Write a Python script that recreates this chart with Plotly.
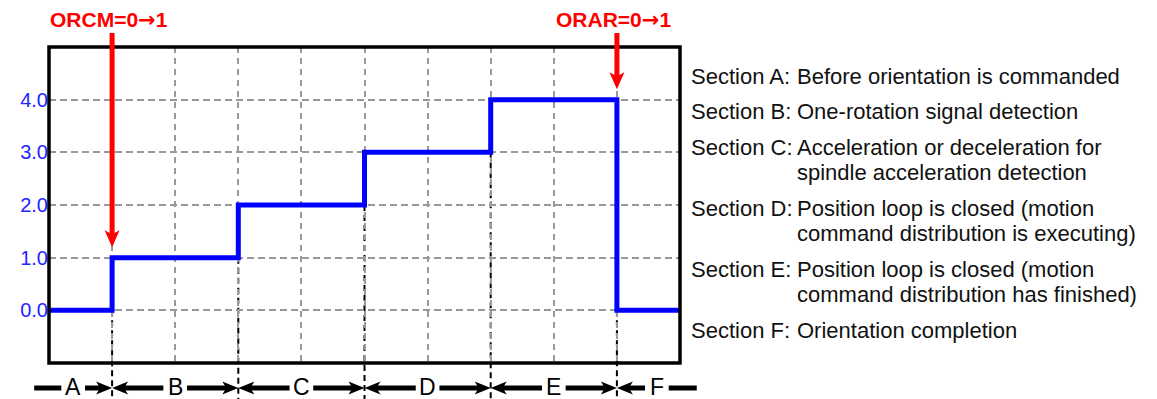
import plotly.graph_objects as go

# step signal, x in grid divisions
step_x = [0, 1, 3, 5, 7, 9, 10]
step_y = [0, 1, 2, 3, 4, 0, 0]

y_ticks = [0, 1, 2, 3, 4]
y_tick_text = ["0.0", "1.0", "2.0", "3.0", "4.0"]

sections = ["A", "B", "C", "D", "E", "F"]
section_desc = [
    ["Before orientation is commanded"],
    ["One-rotation signal detection"],
    ["Acceleration or deceleration for", "spindle acceleration detection"],
    ["Position loop is closed (motion", "command distribution is executing)"],
    ["Position loop is closed (motion", "command distribution has finished)"],
    ["Orientation completion"],
]

signals = ["ORCM=0", "ORAR=0"]
signal_to = "1"
signal_x = [1, 9]

# page geometry (px); the page body adds an 8px margin, so the figure is 8px smaller
OFF = 8
W, H = 1157 - OFF, 399 - OFF
L, R, T, B = 40 - OFF, 477, 47 - OFF, 36
PW, PH = W - L - R, H - T - B
X0, X1 = 0, 10
Y0, Y1 = -1, 5
FONT = "Liberation Sans, Arial, sans-serif"

# arrow head glyphs in px, tip at (0, 0)
HEAD_RIGHT = "M0,0L-16,6.5L-12,0L-16,-6.5Z"
HEAD_LEFT = "M0,0L16,6.5L12,0L16,-6.5Z"
HEAD_DOWN = "M0,0L-7.5,17L0,13L7.5,17Z"


def xpap(x):
    return (x - X0) / (X1 - X0)


def ypap(y):
    return (y - Y0) / (Y1 - Y0)


# screen pixel (as seen in the window) -> paper
def px_pap(px):
    return (px - OFF - L) / PW


def py_pap(py):
    return (H - B - (py - OFF)) / PH


def y_py(y):
    return OFF + H - B - ypap(y) * PH


def head(xp, yp, path, color):
    return dict(type="path", xref="paper", yref="paper", xsizemode="pixel",
                ysizemode="pixel", xanchor=xp, yanchor=yp, path=path,
                fillcolor=color, line=dict(width=0), layer="above")


fig = go.Figure()
fig.add_trace(go.Scatter(x=step_x, y=step_y, mode="lines", line_shape="hv",
                         line=dict(color="#0000ff", width=5), hoverinfo="skip"))

shapes = []
annotations = []

# dashed section boundaries going down below the box
for i in range(1, len(step_x) - 1):
    lvl = min(step_y[i - 1], step_y[i])
    shapes.append(dict(type="line", xref="paper", yref="paper",
                       x0=xpap(step_x[i]), x1=xpap(step_x[i]),
                       y0=ypap(lvl), y1=py_pap(400), layer="between",
                       line=dict(color="black", width=2, dash="6px,4px")))

shapes.append(dict(type="rect", xref="paper", yref="paper", x0=0, y0=0, x1=1, y1=1,
                   line=dict(color="black", width=3.5), layer="above"))

# section arrows row under the box
row_py = 388
gap, head_len = 12, 16
edges_px = [OFF + L + xpap(e) * PW for e in step_x]
edges_px[0], edges_px[-1] = 25, 697
last = len(sections) - 1
for i, name in enumerate(sections):
    a, b = edges_px[i], edges_px[i + 1]
    c = (a + b) / 2
    annotations.append(dict(x=px_pap(c), y=py_pap(row_py - 1), xref="paper", yref="paper",
                            text=name, showarrow=False, xanchor="center", yanchor="middle",
                            font=dict(family=FONT, size=23, color="black")))
    la = a + (head_len - 5 if i > 0 else 0)
    rb = b - (head_len - 5 if i < last else 0)
    for x0, x1 in [(la, c - gap), (c + gap, rb)]:
        shapes.append(dict(type="line", xref="paper", yref="paper",
                           x0=px_pap(x0), x1=px_pap(x1), y0=py_pap(row_py), y1=py_pap(row_py),
                           line=dict(color="black", width=5)))

for e in step_x[1:-1]:
    shapes.append(head(xpap(e), py_pap(row_py), HEAD_RIGHT, "black"))
    shapes.append(head(xpap(e), py_pap(row_py), HEAD_LEFT, "black"))

# red signal arrows
for sx, txt in zip(signal_x, signals):
    i = step_x.index(sx)
    tip = max(step_y[i - 1], step_y[i]) + 0.2
    shapes.append(dict(type="line", xref="paper", yref="paper",
                       x0=xpap(sx), x1=xpap(sx), y0=py_pap(33), y1=py_pap(y_py(tip) - 12),
                       line=dict(color="#ff0000", width=5)))
    shapes.append(head(xpap(sx), ypap(tip), HEAD_DOWN, "#ff0000"))
    label = ("<b>" + txt + "<span style='font-family:DejaVu Sans'>\u2192</span>"
             + signal_to + "</b>")
    annotations.append(dict(x=xpap(sx), y=py_pap(20), xref="paper", yref="paper",
                            text=label, showarrow=False, xshift=-3,
                            xanchor="center", yanchor="middle",
                            font=dict(family=FONT, size=21, color="#ff0000")))

# section descriptions on the right
y_px = 76
for name, lines in zip(sections, section_desc):
    annotations.append(dict(x=px_pap(689), y=py_pap(y_px), xref="paper", yref="paper",
                            text="Section " + name + ":", showarrow=False,
                            xanchor="left", yanchor="middle",
                            font=dict(family=FONT, size=22, color="#111111")))
    for k, ln in enumerate(lines):
        annotations.append(dict(x=px_pap(797), y=py_pap(y_px + 25.5 * k), xref="paper",
                                yref="paper", text=ln, showarrow=False,
                                xanchor="left", yanchor="middle",
                                font=dict(family=FONT, size=22, color="#111111")))
    y_px += 35.5 + 25.5 * (len(lines) - 1)

fig.update_layout(
    width=W, height=H, autosize=False,
    margin=dict(l=L, r=R, t=T, b=B, pad=0),
    paper_bgcolor="white", plot_bgcolor="white",
    showlegend=False,
    shapes=shapes, annotations=annotations,
    xaxis=dict(range=[X0, X1], dtick=1, showticklabels=False, ticks="",
               showgrid=True, gridcolor="#999999", gridwidth=1.5, griddash="6px,5px",
               zeroline=False, showline=False, fixedrange=True),
    yaxis=dict(range=[Y0, Y1], tickvals=y_ticks, ticktext=y_tick_text, ticks="",
               showgrid=True, gridcolor="#999999", gridwidth=1.5, griddash="7px,4px",
               zeroline=False, showline=False, fixedrange=True,
               tickfont=dict(family=FONT, size=20, color="#2424ff")),
)

fig.write_html("out.html")
